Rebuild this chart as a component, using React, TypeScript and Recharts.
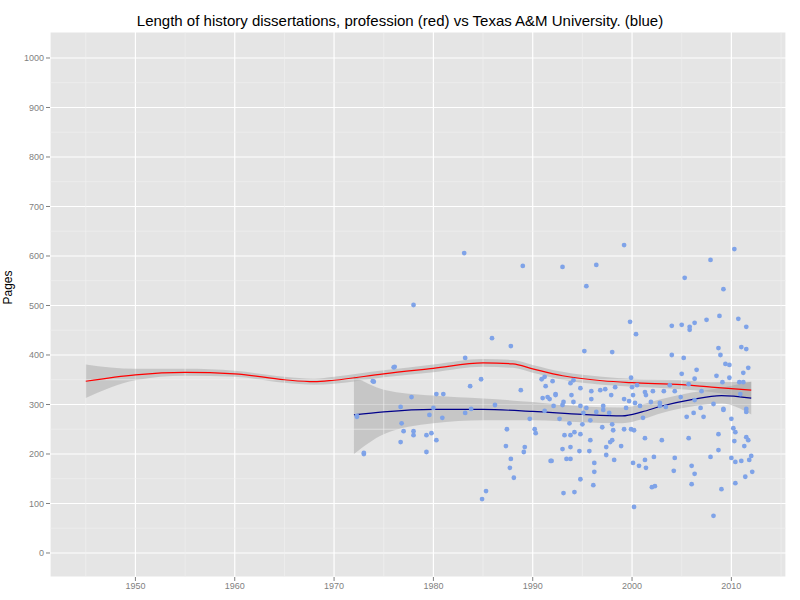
import { Area, CartesianGrid, ComposedChart, Line, ReferenceLine, Scatter, XAxis, YAxis, ZAxis } from "recharts";

// scatter: [year, pages]
const tamuPoints: [number, number][] = [
  [1973.0, 200], [1972.3, 277], [1973.9, 347], [1976, 375], [1983.1, 606], [1989, 580], [1978, 501], [1985.9, 434],
  [1987.8, 418], [1983.2, 394], [1976.1, 376], [1974, 346], [1984.8, 351], [1983.7, 337], [1988.8, 329], [1977.8, 315],
  [1980.3, 321], [1981, 321], [1986.2, 299], [1976.7, 295], [1980, 293], [1983.8, 291], [1983.2, 283], [1972.3, 275],
  [1979.6, 279], [1980.9, 273], [1976.8, 262], [1977, 246], [1978, 246], [1978, 238], [1979.3, 238], [1979.8, 242],
  [1980.3, 228], [1976.7, 224], [1987.4, 250], [1989.7, 271], [1987.3, 216], [1987.8, 190], [1987.7, 172], [1988.1, 152],
  [1985.3, 125], [1984.9, 109], [1979.3, 204], [1973, 202], [1989.2, 214], [1989.1, 204], [1990.2, 250], [1990.3, 242],
  [1991.9, 186], [1990.9, 351], [1991.2, 356], [1992, 347], [1991.3, 337], [1991, 313], [1991.5, 315], [1991.7, 311],
  [1992.3, 321], [1992.1, 297], [1991.2, 287], [1992.7, 271],
  [1999.2, 622], [2010.3, 614], [1993, 578], [1996.4, 582], [2007.9, 592], [1995.4, 539], [2005.3, 556], [2009.2, 533],
  [1999.8, 467], [2000.4, 442], [2004, 459], [2005, 461], [2005.8, 457], [2005.8, 451], [2006.3, 465], [2007.5, 471],
  [2008.8, 479], [2010.7, 473], [2011.5, 457], [1995.2, 408], [1998, 406], [2004, 400], [2005.2, 394], [2008.7, 414],
  [2008.9, 400], [2011, 416], [2011.5, 412], [2009.4, 382], [2009.8, 380], [2011.7, 374], [2011.2, 364], [2006.5, 370],
  [2005, 362], [1999.9, 354], [2008.5, 358], [2009.8, 354], [2006.3, 352], [1994.1, 349], [1993.8, 343], [1994.8, 333],
  [1995.9, 327], [1996.8, 329], [1997.3, 331], [1998.3, 335], [1997.9, 319], [2000, 335], [2000.5, 339], [1993.9, 319],
  [1992.3, 319], [1995.9, 311], [1999.2, 311], [1999.7, 307], [2000.1, 319], [2001.3, 325], [2001.4, 319], [2002.1, 327],
  [2003.2, 327], [2003.8, 339], [2004.3, 327], [2004.9, 315], [2005.7, 341], [2007, 327], [2009.1, 345], [2010.8, 345],
  [2011.2, 345], [2010.9, 321], [1993.1, 305], [1994.1, 305], [1993, 299], [1994.8, 297], [1995.4, 293], [1996.4, 285],
  [1997.1, 297], [1997.1, 289], [1997.7, 283], [1999.4, 293], [2000.3, 303], [2000.8, 297], [2001.9, 305], [2002.8, 303],
  [2003.4, 295], [2006.3, 309], [2006.9, 293], [2008.2, 301], [2009.2, 291], [2011.5, 291], [2011.5, 285], [1995.1, 283],
  [1993.7, 262], [1995, 260], [1995.8, 268], [1997, 254], [1998, 260], [1998.1, 248], [1999.2, 250], [1999.9, 250],
  [2000.2, 248], [2001.1, 273], [2002.8, 297], [2005.5, 275], [2006.2, 283], [2007.2, 275], [2009.2, 289], [2010, 271],
  [2010.2, 252], [2010.4, 244], [2008.7, 240], [1993.2, 238], [1993.8, 238], [1994.2, 244], [1994.8, 240], [1993, 210],
  [1993.8, 214], [1994.7, 206], [1995.8, 228], [1995.7, 206], [1997.4, 214], [1997.8, 224], [1998, 228], [1998.9, 216],
  [1997.4, 198], [1998.2, 188], [1996.2, 182], [1996.2, 164], [1996.1, 137], [1994.8, 149], [1993.4, 190], [1993.8, 190],
  [1991.8, 186], [1993.1, 121], [1994.2, 123], [2000.1, 182], [2000.7, 176], [2001.3, 188], [2001.4, 172], [2001.3, 232],
  [2003, 228], [2002.2, 194], [2002, 133], [2002.3, 135], [2000.2, 93], [2004.3, 192], [2004.2, 166], [2005.7, 232],
  [2006, 176], [2006.3, 160], [2006, 139], [2007.9, 194], [2008.7, 208], [2009, 129], [2008.2, 75], [2010, 192],
  [2010.4, 184], [2010.3, 226], [2011.3, 216], [2011.5, 234], [2011.7, 228], [2011, 186], [2011.8, 188], [2012, 196],
  [2012.1, 164], [2011.4, 154], [2010.4, 141],
];

const professionYears = [1945, 1950, 1955, 1960, 1965, 1968, 1970, 1975, 1980, 1985, 1988, 1990, 1993, 1997, 2000, 2005, 2008, 2012];
const professionFit = [347, 360, 365, 362, 350, 346, 349, 362, 373, 384, 382, 372, 358, 348, 344, 340, 335, 329];
const professionLow = [313, 349, 358, 356, 344, 340, 342, 355, 365, 376, 374, 364, 350, 340, 336, 331, 325, 312];
const professionHigh = [381, 372, 372, 368, 356, 352, 356, 369, 381, 392, 390, 380, 366, 356, 352, 349, 345, 346];

const tamuYears = [1972, 1975, 1980, 1985, 1990, 1995, 1999, 2001, 2003, 2006, 2009, 2012];
const tamuFit = [279, 285, 290, 290, 286, 280, 277, 285, 297, 310, 318, 313];
const tamuLow = [200, 240, 262, 268, 268, 264, 262, 270, 283, 296, 302, 280];
const tamuHigh = [357, 330, 318, 312, 305, 296, 294, 300, 311, 324, 334, 346];

const xTicks = [1950, 1960, 1970, 1980, 1990, 2000, 2010];
const yTicks = [0, 100, 200, 300, 400, 500, 600, 700, 800, 900, 1000];
const xMinor = [1945, 1955, 1965, 1975, 1985, 1995, 2005, 2015];
const yMinor = [50, 150, 250, 350, 450, 550, 650, 750, 850, 950];

const scatterData = tamuPoints.map(([x, y]) => ({ x, y }));
const professionData = professionYears.map((x, i) => ({ x, fit: professionFit[i], band: [professionLow[i], professionHigh[i]] }));
const tamuData = tamuYears.map((x, i) => ({ x, fit: tamuFit[i], band: [tamuLow[i], tamuHigh[i]] }));

const tickStyle = { fill: "#7F7F7F", fontSize: 9 };

export default function App() {
  return (
    <div style={{ width: 800, height: 600, position: "relative", fontFamily: "'Liberation Sans', Arial, sans-serif", background: "#fff" }}>
      <style>{"body{margin:0}"}</style>
      <div style={{ position: "absolute", top: 12, width: 800, textAlign: "center", fontSize: 15 }}>
        Length of history dissertations, profession (red) vs Texas A&amp;M University. (blue)
      </div>
      <ComposedChart width={800} height={600} margin={{ top: 32, right: 14, bottom: 0, left: 0 }}>
        <CartesianGrid fill="#E5E5E5" stroke="#FFFFFF" strokeWidth={1.2} />
        {xMinor.map((v) => <ReferenceLine key={"x" + v} x={v} stroke="#F2F2F2" strokeWidth={0.6} />)}
        {yMinor.map((v) => <ReferenceLine key={"y" + v} y={v} stroke="#F2F2F2" strokeWidth={0.6} />)}
        <XAxis dataKey="x" type="number" domain={[1941.4, 2015.5]} ticks={xTicks} allowDataOverflow
          height={23} tick={tickStyle} tickLine={{ stroke: "#7F7F7F" }} tickSize={4} axisLine={false} />
        <YAxis type="number" domain={[-48.5, 1052.5]} ticks={yTicks} allowDataOverflow width={50}
          tick={tickStyle} tickLine={{ stroke: "#7F7F7F" }} tickSize={4} axisLine={false}
          label={{ value: "Pages", angle: -90, position: "insideLeft", offset: 8, style: { fill: "#000", fontSize: 12 } }} />
        <ZAxis range={[18, 18]} />
        <Scatter data={scatterData} dataKey="y" fill="#7FA3E8" isAnimationActive={false} />
        <Area data={professionData} dataKey="band" type="monotone" stroke="none" fill="#999999" fillOpacity={0.4} isAnimationActive={false} />
        <Area data={tamuData} dataKey="band" type="monotone" stroke="none" fill="#999999" fillOpacity={0.4} isAnimationActive={false} />
        <Line data={professionData} dataKey="fit" type="monotone" stroke="#FF0000" strokeWidth={1.2} dot={false} isAnimationActive={false} />
        <Line data={tamuData} dataKey="fit" type="monotone" stroke="#00008B" strokeWidth={1.2} dot={false} isAnimationActive={false} />
      </ComposedChart>
    </div>
  );
}
